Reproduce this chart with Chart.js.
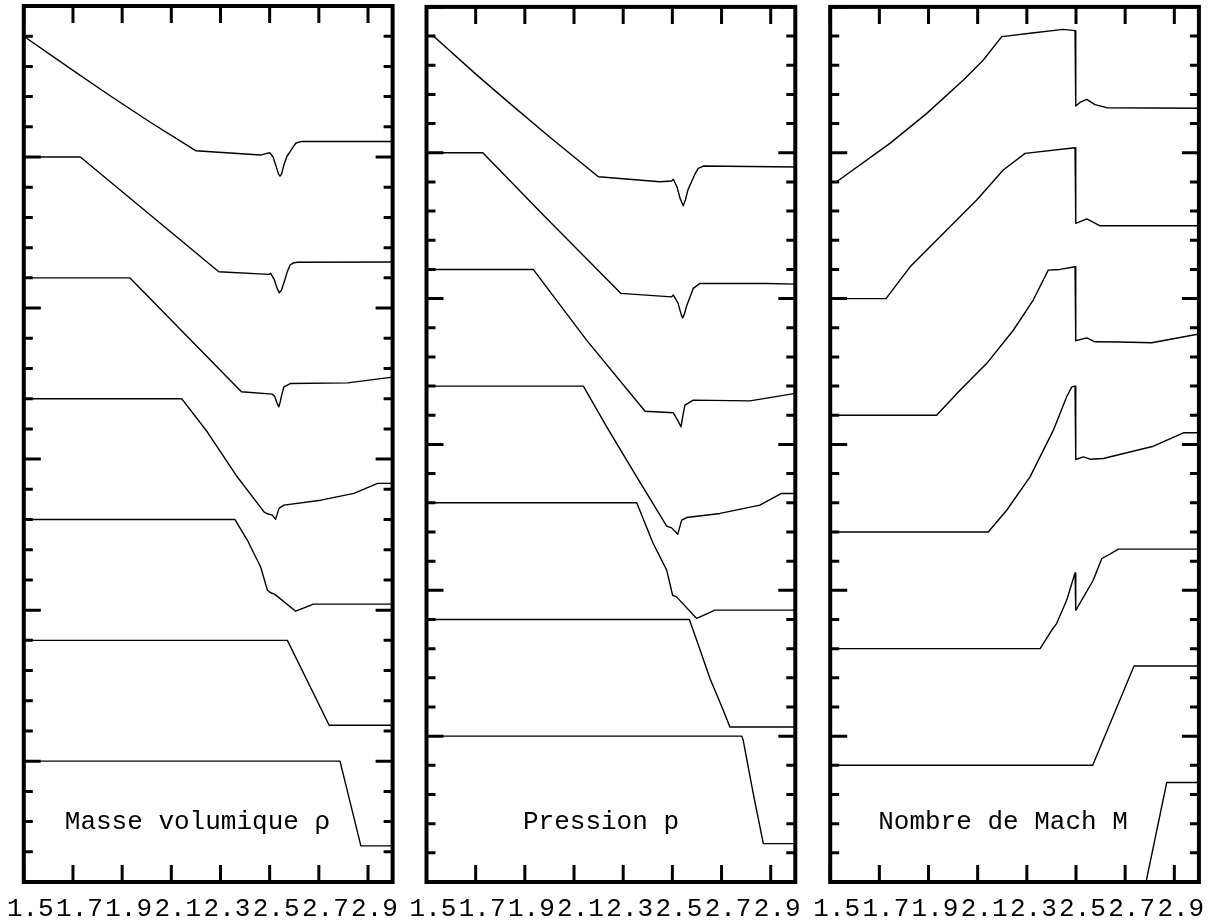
<!DOCTYPE html>
<html>
<head>
<meta charset="utf-8">
<script src="https://cdn.jsdelivr.net/npm/chart.js@4.4.1/dist/chart.umd.min.js"></script>
<style>
  html, body { margin: 0; padding: 0; background: #fff; }
  #wrap { position: relative; width: 1215px; height: 923px; overflow: hidden; }
  #wrap canvas { position: absolute; top: 0; }
</style>
</head>
<body>
<div id="wrap">
  <canvas id="cRho" width="405" height="923" style="left:0"></canvas>
  <canvas id="cPres" width="405" height="923" style="left:405px"></canvas>
  <canvas id="cMach" width="405" height="923" style="left:810px"></canvas>
</div>
<script>
// x axis (position), shared by the three panels
var xTicks = [1.5, 1.7, 1.9, 2.1, 2.3, 2.5, 2.7, 2.9];
var xTickLabels = ['1.5', '1.7', '1.9', '2.1', '2.3', '2.5', '2.7', '2.9'];

// Masse volumique : profils successifs, decales de 0.8 chacun
var rho0 = [[1.5, 0], [2.786, 0], [2.871, -0.561], [3.0, -0.561]];
var rho1 = [[1.5, 0.8], [2.572, 0.8], [2.742, 0.238], [3.0, 0.238]];
var rho2 = [[1.5, 1.6], [2.359, 1.6], [2.409, 1.464], [2.463, 1.287], [2.491, 1.132], [2.504, 1.115], [2.52, 1.106],
  [2.606, 0.993], [2.678, 1.04], [3.0, 1.04]];
var rho3 = [[1.5, 2.4], [2.142, 2.4], [2.246, 2.181], [2.368, 1.883], [2.477, 1.651], [2.488, 1.64], [2.511, 1.629],
  [2.524, 1.601], [2.538, 1.674], [2.558, 1.695], [2.708, 1.728], [2.843, 1.773], [2.939, 1.839], [3.0, 1.839]];
var rho4 = [[1.5, 3.2], [1.931, 3.2], [2.385, 2.446], [2.511, 2.43], [2.52, 2.417], [2.53, 2.37], [2.537, 2.346],
  [2.543, 2.38], [2.549, 2.424], [2.558, 2.479], [2.586, 2.501], [2.817, 2.505], [3.0, 2.543]];
var rho5 = [[1.5, 4.0], [1.73, 4.0], [2.293, 3.24], [2.497, 3.223], [2.504, 3.23], [2.518, 3.192], [2.53, 3.132],
  [2.539, 3.101], [2.548, 3.119], [2.559, 3.172], [2.571, 3.238], [2.583, 3.285], [2.595, 3.298], [2.611, 3.303],
  [3.0, 3.305]];
var rho6 = [[1.5, 4.8], [1.688, 4.587], [1.851, 4.406], [2.013, 4.232], [2.199, 4.042], [2.463, 4.013], [2.492, 4.026],
  [2.501, 4.028], [2.514, 4.0], [2.526, 3.94], [2.536, 3.887], [2.542, 3.874], [2.548, 3.887], [2.559, 3.954],
  [2.571, 4.007], [2.583, 4.035], [2.595, 4.066], [2.607, 4.093], [2.631, 4.104], [3.0, 4.103]];

// Pression
var pres0 = [[1.5, 0], [2.782, 0], [2.788, -0.027], [2.829, -0.394], [2.87, -0.737], [3.0, -0.737]];
var pres1 = [[1.5, 0.8], [2.569, 0.8], [2.599, 0.658], [2.653, 0.395], [2.707, 0.178], [2.734, 0.063], [3.0, 0.063]];
var pres2 = [[1.5, 1.6], [2.355, 1.6], [2.422, 1.321], [2.477, 1.138], [2.501, 0.966], [2.517, 0.955], [2.599, 0.807],
  [2.673, 0.864], [3.0, 0.864]];
var pres3 = [[1.5, 2.4], [2.138, 2.4], [2.233, 2.121], [2.355, 1.778], [2.477, 1.44], [2.497, 1.428], [2.522, 1.385],
  [2.538, 1.481], [2.558, 1.499], [2.694, 1.527], [2.856, 1.584], [2.944, 1.664], [3.0, 1.664]];
var pres4 = [[1.5, 3.2], [1.934, 3.2], [2.151, 2.715], [2.389, 2.228], [2.504, 2.217], [2.52, 2.17], [2.535, 2.121],
  [2.543, 2.2], [2.551, 2.27], [2.585, 2.304], [2.816, 2.299], [3.0, 2.35]];
var pres5 = [[1.5, 4.0], [1.729, 4.0], [1.975, 3.573], [2.29, 3.036], [2.497, 3.012], [2.504, 3.024], [2.523, 2.969],
  [2.536, 2.89], [2.542, 2.868], [2.548, 2.89], [2.559, 2.955], [2.585, 3.07], [2.612, 3.104], [2.883, 3.104],
  [3.0, 3.099]];
var pres6 = [[1.5, 4.8], [1.528, 4.8], [1.704, 4.534], [1.84, 4.337], [2.002, 4.106], [2.199, 3.835], [2.449, 3.801],
  [2.497, 3.806], [2.504, 3.818], [2.519, 3.765], [2.531, 3.689], [2.544, 3.636], [2.553, 3.676], [2.563, 3.744],
  [2.578, 3.801], [2.592, 3.854], [2.605, 3.893], [2.626, 3.909], [3.0, 3.902]];

// Nombre de Mach
var mach0 = [[1.5, -1.0], [2.785, -1.0], [2.869, -0.318], [3.0, -0.318]];
var mach1 = [[1.5, -0.2], [2.568, -0.2], [2.736, 0.481], [3.0, 0.481]];
var mach2 = [[1.5, 0.6], [2.354, 0.6], [2.401, 0.726], [2.421, 0.772], [2.462, 0.932], [2.496, 1.119], [2.499, 0.863],
  [2.57, 1.069], [2.605, 1.218], [2.638, 1.248], [2.672, 1.282], [3.0, 1.282]];
var mach3 = [[1.5, 1.4], [2.143, 1.4], [2.218, 1.549], [2.313, 1.778], [2.408, 2.098], [2.462, 2.327], [2.483, 2.395],
  [2.496, 2.4], [2.499, 1.897], [2.53, 1.915], [2.557, 1.899], [2.611, 1.904], [2.815, 1.988], [2.937, 2.08], [3.0, 2.08]];
var mach4 = [[1.5, 2.2], [1.933, 2.2], [2.028, 2.371], [2.137, 2.556], [2.245, 2.783], [2.326, 2.99], [2.387, 3.195],
  [2.435, 3.2], [2.496, 3.218], [2.499, 2.711], [2.52, 2.72], [2.544, 2.731], [2.577, 2.704], [2.679, 2.702],
  [2.808, 2.697], [3.0, 2.757]];
var mach5 = [[1.5, 3.0], [1.727, 3.0], [1.825, 3.218], [1.96, 3.447], [2.096, 3.676], [2.204, 3.882], [2.293, 3.996],
  [2.496, 4.034], [2.499, 3.516], [2.544, 3.547], [2.598, 3.499], [3.0, 3.499]];
var mach6 = [[1.5, 3.8], [1.526, 3.801], [1.743, 4.064], [1.893, 4.27], [2.042, 4.499], [2.123, 4.636], [2.198, 4.796],
  [2.313, 4.819], [2.448, 4.846], [2.496, 4.837], [2.499, 4.32], [2.516, 4.345], [2.544, 4.366], [2.577, 4.33],
  [2.625, 4.309], [3.0, 4.305]];

var FONT = '26px "Courier New", "Liberation Mono", monospace';

function toPoints(arr) {
  return arr.map(function (p) { return { x: p[0], y: p[1] }; });
}

// frame, inward ticks, x labels and panel title
function axesPlugin(title, titleDx) {
  return {
    id: 'axes',
    afterDatasetsDraw: function (chart) {
      var ctx = chart.ctx, a = chart.chartArea;
      var x = chart.scales.x, y = chart.scales.y;
      ctx.save();
      ctx.strokeStyle = '#000';
      ctx.lineWidth = 3;
      ctx.beginPath();
      xTicks.forEach(function (v) {
        var px = x.getPixelForValue(v);
        ctx.moveTo(px, a.top); ctx.lineTo(px, a.top + 17);
        ctx.moveTo(px, a.bottom); ctx.lineTo(px, a.bottom - 17);
      });
      var lo = Math.round(y.min * 5), hi = Math.round(y.max * 5);
      for (var i = lo; i <= hi; i++) {
        var py = y.getPixelForValue(i / 5);
        var len = (i % 5 === 0) ? 17 : 9;
        ctx.moveTo(a.left, py); ctx.lineTo(a.left + len, py);
        ctx.moveTo(a.right, py); ctx.lineTo(a.right - len, py);
      }
      ctx.stroke();
      ctx.lineWidth = 4;
      ctx.strokeRect(a.left, a.top, a.right - a.left, a.bottom - a.top);

      ctx.fillStyle = '#000';
      ctx.font = FONT;
      ctx.textAlign = 'center';
      ctx.textBaseline = 'alphabetic';
      xTicks.forEach(function (v, k) {
        ctx.fillText(xTickLabels[k], x.getPixelForValue(v) + 6.5, a.bottom + 34);
      });
      ctx.textAlign = 'left';
      ctx.fillText(title, a.left + titleDx, a.bottom - 53);
      ctx.restore();
    }
  };
}

function panel(id, curves, yMin, pad, title, titleDx) {
  new Chart(document.getElementById(id), {
    type: 'line',
    data: {
      datasets: curves.map(function (c) {
        return {
          data: toPoints(c),
          borderColor: '#000',
          borderWidth: 1.4,
          borderJoinStyle: 'round',
          pointRadius: 0,
          tension: 0,
          fill: false,
        };
      }),
    },
    options: {
      responsive: false,
      animation: false,
      events: [],
      layout: { padding: pad },
      plugins: { legend: { display: false }, tooltip: { enabled: false } },
      scales: {
        x: { type: 'linear', min: 1.5, max: 3.0, display: false },
        y: { type: 'linear', min: yMin, max: 5, display: false },
      },
    },
    plugins: [axesPlugin(title, titleDx)],
  });
}

panel('cRho', [rho0, rho1, rho2, rho3, rho4, rho5, rho6], -0.8,
  { left: 23.8, right: 12.4, top: 6, bottom: 41 }, 'Masse volumique \u03c1', 41);
panel('cPres', [pres0, pres1, pres2, pres3, pres4, pres5, pres6], -1,
  { left: 21.5, right: 14.7, top: 6.9, bottom: 41 }, 'Pression p', 96.5);
panel('cMach', [mach0, mach1, mach2, mach3, mach4, mach5, mach6], -1,
  { left: 20.2, right: 16.1, top: 6.9, bottom: 41 }, 'Nombre de Mach M', 48);
</script>
</body>
</html>
